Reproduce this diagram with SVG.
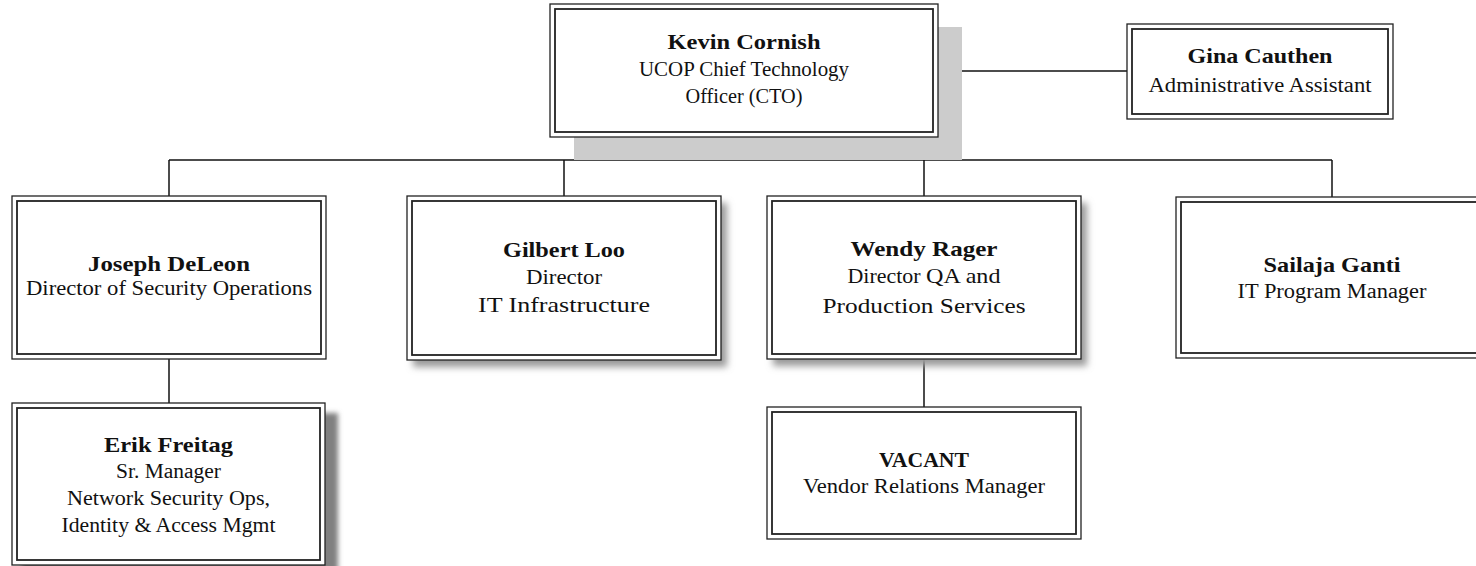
<svg xmlns="http://www.w3.org/2000/svg" width="1476" height="566" viewBox="0 0 1476 566">
<style>
.o{fill:#fff;stroke:#222;stroke-width:1.3}
.i{fill:none;stroke:#222;stroke-width:1.8}
.c{fill:none;stroke:#111;stroke-width:1.5}
text{font-family:"Liberation Serif","Times New Roman",serif;fill:#111;text-anchor:middle}
.b{font-weight:bold;font-size:21px}
.r{font-size:20px}
.l{font-size:22px}
</style>
<defs>
<filter id="blur" x="-10%" y="-10%" width="120%" height="120%"><feGaussianBlur stdDeviation="3.5"/></filter>
<filter id="blur2" x="-10%" y="-10%" width="120%" height="120%"><feGaussianBlur stdDeviation="2.5"/></filter>
</defs>
<rect width="1476" height="566" fill="#fff"/>
<g id="connectors">
<line class="c" x1="744" y1="137" x2="744" y2="160"/>
<line class="c" x1="169" y1="160" x2="1332" y2="160"/>
<line class="c" x1="169" y1="160" x2="169" y2="196"/>
<line class="c" x1="564" y1="160" x2="564" y2="196"/>
<line class="c" x1="924" y1="160" x2="924" y2="196"/>
<line class="c" x1="1332" y1="160" x2="1332" y2="197"/>
<line class="c" x1="938" y1="71" x2="1127" y2="71"/>
<line class="c" x1="169" y1="359" x2="169" y2="403"/>
<line class="c" x1="924" y1="359" x2="924" y2="407"/>
</g>
<g id="kevin">
<rect x="574" y="27" width="388" height="133" fill="#cccccc"/>
<rect class="o" x="550" y="4" width="388" height="133"/>
<rect class="i" x="555" y="9" width="378" height="123"/>
<text class="b" x="744" y="49" textLength="153" lengthAdjust="spacingAndGlyphs">Kevin Cornish</text>
<text class="r" x="744" y="76" textLength="210" lengthAdjust="spacingAndGlyphs">UCOP Chief Technology</text>
<text class="r" x="744" y="102.5" textLength="117" lengthAdjust="spacingAndGlyphs">Officer (CTO)</text>
</g>
<g id="gina">
<rect class="o" x="1127" y="24" width="266" height="95"/>
<rect class="i" x="1132" y="29" width="256" height="85"/>
<text class="b" x="1260" y="63" textLength="145" lengthAdjust="spacingAndGlyphs">Gina Cauthen</text>
<text class="r" x="1260" y="91.5" textLength="223" lengthAdjust="spacingAndGlyphs">Administrative Assistant</text>
</g>
<g id="joseph">
<rect class="o" x="12" y="196" width="314" height="163"/>
<rect class="i" x="17" y="201" width="304" height="153"/>
<text class="b" x="169" y="270.5" textLength="162" lengthAdjust="spacingAndGlyphs">Joseph DeLeon</text>
<text class="r" x="169" y="295" textLength="286" lengthAdjust="spacingAndGlyphs">Director of Security Operations</text>
</g>
<g id="erik">
<rect x="22" y="413" width="316" height="165" fill="#808080" filter="url(#blur2)"/>
<rect class="o" x="12" y="403" width="313" height="162"/>
<rect class="i" x="17" y="408" width="303" height="152"/>
<text class="b" x="168.5" y="451.5" textLength="129" lengthAdjust="spacingAndGlyphs">Erik Freitag</text>
<text class="r" x="168.5" y="478" textLength="105" lengthAdjust="spacingAndGlyphs">Sr. Manager</text>
<text class="r" x="168.5" y="505" textLength="203" lengthAdjust="spacingAndGlyphs">Network Security Ops,</text>
<text class="r" x="168.5" y="531.5" textLength="214" lengthAdjust="spacingAndGlyphs">Identity &amp; Access Mgmt</text>
</g>
<g id="gilbert">
<rect x="413" y="203" width="314" height="164" fill="#9a9a9a" filter="url(#blur)"/>
<rect class="o" x="407" y="196" width="314" height="164"/>
<rect class="i" x="412" y="201" width="304" height="154"/>
<text class="b" x="564" y="257" textLength="122" lengthAdjust="spacingAndGlyphs">Gilbert Loo</text>
<text class="r" x="564" y="284" textLength="76" lengthAdjust="spacingAndGlyphs">Director</text>
<text class="l" x="564" y="311.5" textLength="172" lengthAdjust="spacingAndGlyphs">IT Infrastructure</text>
</g>
<g id="wendy">
<rect x="773" y="203" width="314" height="163" fill="#9a9a9a" filter="url(#blur)"/>
<rect class="o" x="767" y="196" width="314" height="163"/>
<rect class="i" x="772" y="201" width="304" height="153"/>
<text class="b" x="924" y="256" textLength="147" lengthAdjust="spacingAndGlyphs">Wendy Rager</text>
<text class="r" x="924" y="283" textLength="153" lengthAdjust="spacingAndGlyphs">Director <tspan class="l">QA and</tspan></text>
<text class="l" x="924" y="312.5" textLength="203" lengthAdjust="spacingAndGlyphs">Production Services</text>
</g>
<g id="vacant">
<rect class="o" x="767" y="407" width="314" height="132"/>
<rect class="i" x="772" y="412" width="304" height="122"/>
<text class="b" x="924" y="467" textLength="90" lengthAdjust="spacingAndGlyphs">VACANT</text>
<text class="r" x="924" y="493" textLength="242" lengthAdjust="spacingAndGlyphs">Vendor Relations Manager</text>
</g>
<g id="sailaja">
<rect class="o" x="1176" y="197" width="312" height="161"/>
<rect class="i" x="1181" y="202" width="302" height="151"/>
<text class="b" x="1332" y="271.5" textLength="137" lengthAdjust="spacingAndGlyphs">Sailaja Ganti</text>
<text class="r" x="1332" y="298" textLength="189" lengthAdjust="spacingAndGlyphs">IT Program Manager</text>
</g>
</svg>
